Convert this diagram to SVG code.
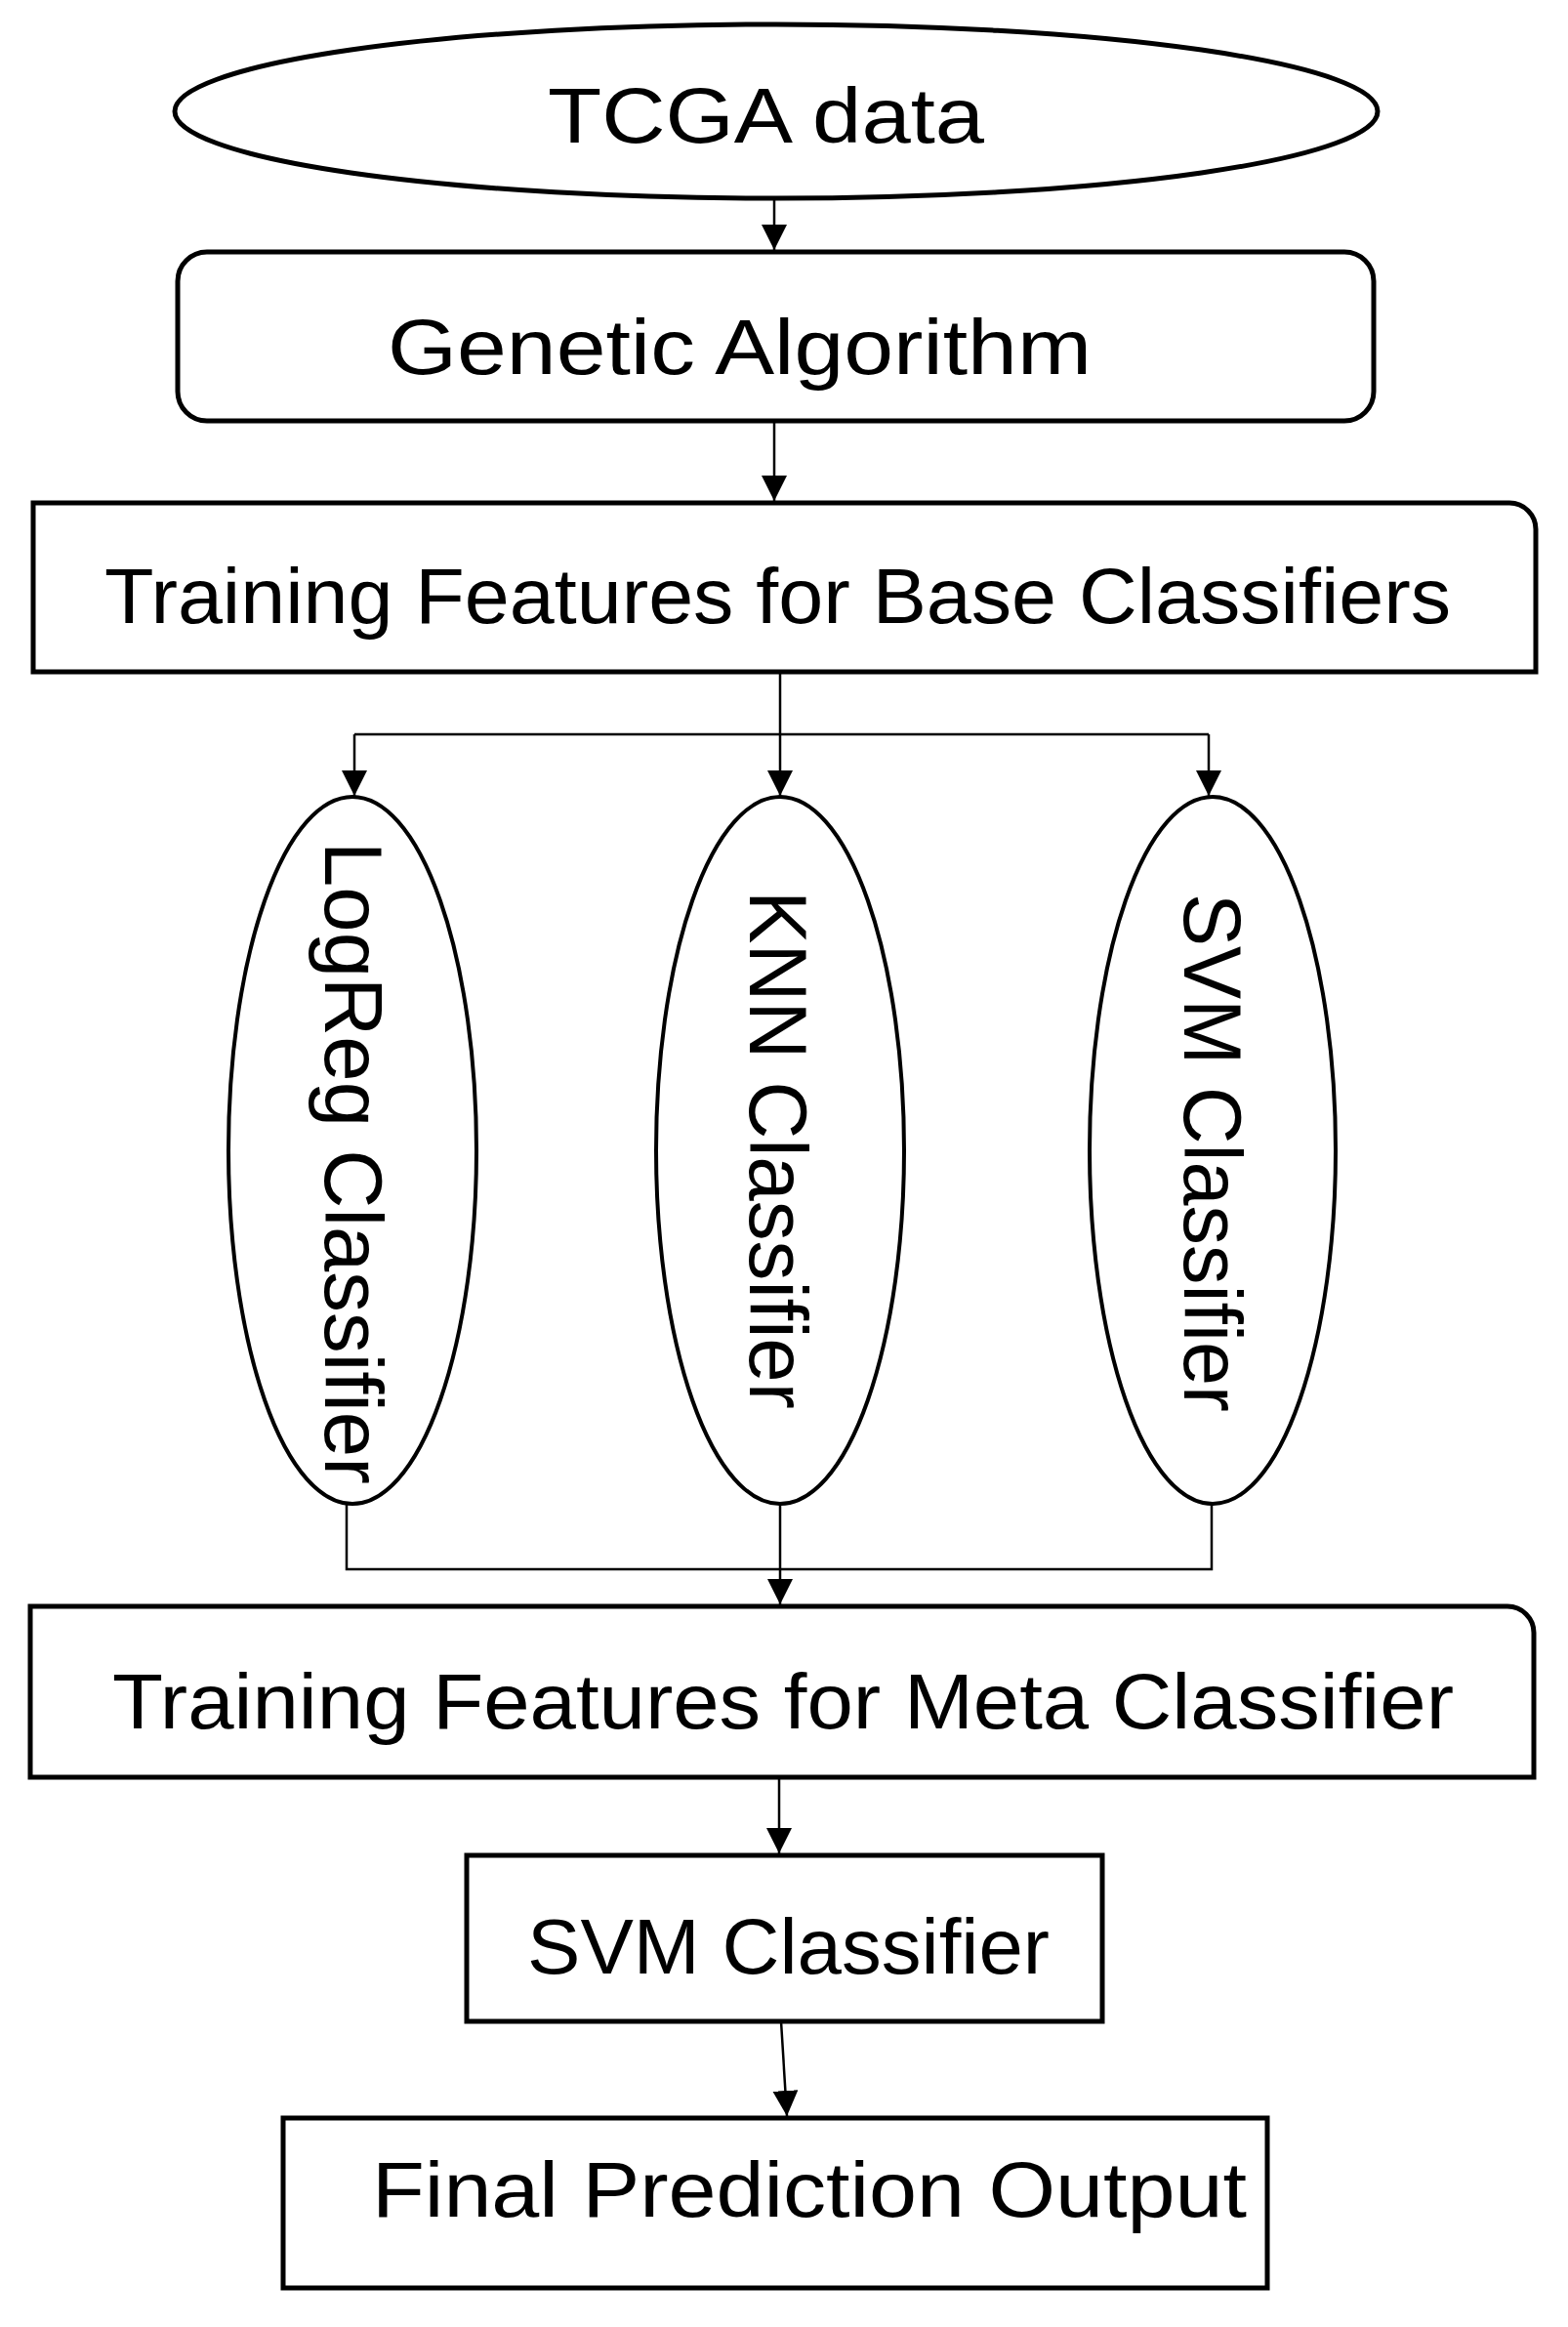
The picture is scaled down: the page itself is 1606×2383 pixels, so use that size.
<svg xmlns="http://www.w3.org/2000/svg" width="1606" height="2383" viewBox="0 0 1606 2383">
<defs>
<marker id="arr" markerUnits="userSpaceOnUse" markerWidth="26" markerHeight="26" refX="26" refY="13" orient="auto">
<path d="M0,0 L26,13 L0,26 Z" fill="#000"/>
</marker>
<style>
.box{fill:#fff;stroke:#000;stroke-width:5}
.ell{fill:#fff;stroke:#000;stroke-width:4}
.t{font-family:"Liberation Sans",Arial,sans-serif;font-size:80px;fill:#000}
.tv{font-family:"Liberation Sans",Arial,sans-serif;font-size:84px;fill:#000}
.c{fill:none;stroke:#000;stroke-width:2.5}
</style>
</defs>
<rect width="1606" height="2383" fill="#fff"/>
<g id="connectors">
<path class="c" d="M793,204 V256" marker-end="url(#arr)"/>
<path class="c" d="M793,431 V513" marker-end="url(#arr)"/>
<path class="c" d="M799,688 V752"/>
<path class="c" d="M363,752 H1238"/>
<path class="c" d="M363,752 V815" marker-end="url(#arr)"/>
<path class="c" d="M799,752 V815" marker-end="url(#arr)"/>
<path class="c" d="M1238,752 V815" marker-end="url(#arr)"/>
<path class="c" d="M355,1540 V1607 H1241 V1540"/>
<path class="c" d="M799,1540 V1643" marker-end="url(#arr)"/>
<path class="c" d="M798,1820 V1898" marker-end="url(#arr)"/>
<path class="c" d="M800,2070 L806,2167" marker-end="url(#arr)"/>
</g>
<g id="tcga">
<ellipse class="box" cx="795" cy="114" rx="616" ry="89"/>
<text class="t" x="561" y="146" textLength="447" lengthAdjust="spacingAndGlyphs">TCGA data</text>
</g>
<g id="ga">
<rect class="box" x="182" y="258" width="1225" height="173" rx="30" ry="30"/>
<text class="t" x="397" y="383" textLength="721" lengthAdjust="spacingAndGlyphs">Genetic Algorithm</text>
</g>
<g id="tfbase">
<path class="box" d="M34,515 H1546 A27,27 0 0 1 1573,542 V688 H34 Z"/>
<text class="t" x="107" y="638" textLength="1379" lengthAdjust="spacingAndGlyphs">Training Features for Base Classifiers</text>
</g>
<g id="logreg">
<ellipse class="ell" cx="361" cy="1178" rx="127" ry="362"/>
<text class="tv" transform="translate(333,862) rotate(90)" x="0" y="0" textLength="658" lengthAdjust="spacingAndGlyphs">LogReg Classifier</text>
</g>
<g id="knn">
<ellipse class="ell" cx="799" cy="1178" rx="127" ry="362"/>
<text class="tv" transform="translate(768,912) rotate(90)" x="0" y="0" textLength="531" lengthAdjust="spacingAndGlyphs">KNN Classifier</text>
</g>
<g id="svm1">
<ellipse class="ell" cx="1242" cy="1178" rx="126" ry="362"/>
<text class="tv" transform="translate(1213,915) rotate(90)" x="0" y="0" textLength="531" lengthAdjust="spacingAndGlyphs">SVM Classifier</text>
</g>
<g id="tfmeta">
<path class="box" d="M31,1645 H1544 A27,27 0 0 1 1571,1672 V1820 H31 Z"/>
<text class="t" x="115" y="1770" textLength="1374" lengthAdjust="spacingAndGlyphs">Training Features for Meta Classifier</text>
</g>
<g id="svm2">
<rect class="box" x="478" y="1900" width="651" height="170"/>
<text class="t" x="540" y="2021" textLength="535" lengthAdjust="spacingAndGlyphs">SVM Classifier</text>
</g>
<g id="final">
<rect class="box" x="290" y="2169" width="1008" height="174"/>
<text class="t" x="381" y="2270" textLength="896" lengthAdjust="spacingAndGlyphs">Final Prediction Output</text>
</g>
</svg>
